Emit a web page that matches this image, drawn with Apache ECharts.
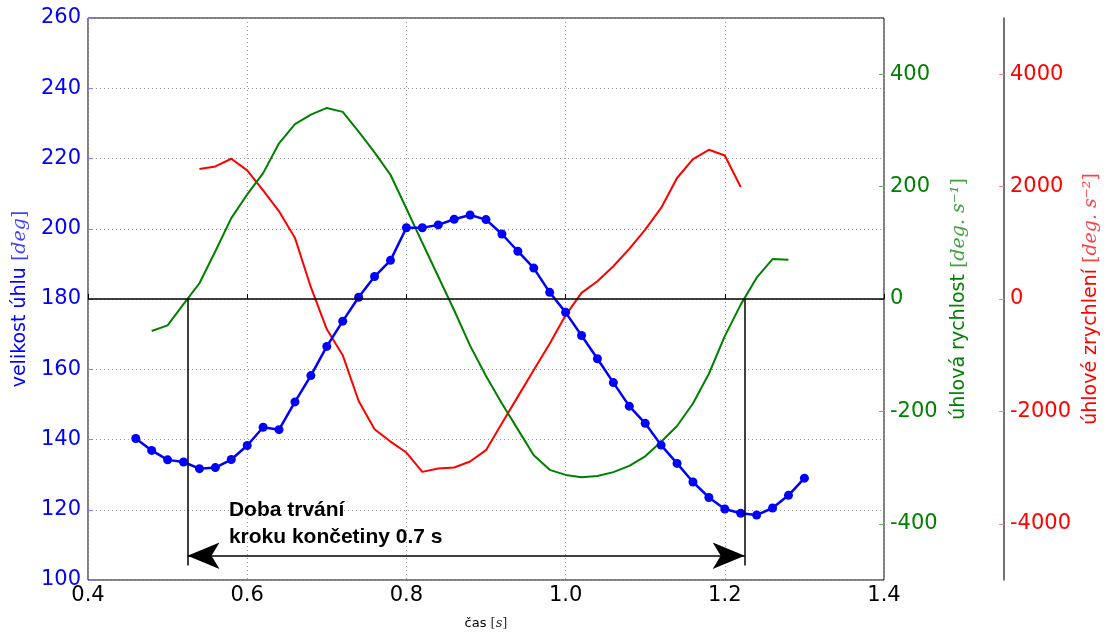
<!DOCTYPE html>
<html><head><meta charset="utf-8">
<script src="https://cdn.jsdelivr.net/npm/echarts@6/dist/echarts.min.js"></script>
<style>html,body{margin:0;padding:0;background:#fff}#c{width:1112px;height:635px}</style>
</head><body><div id="c"></div>
<script>
// ---- data ----
const angleTime = [0.46,0.48,0.50,0.52,0.54,0.56,0.58,0.60,0.62,0.64,0.66,0.68,0.70,0.72,0.74,0.76,0.78,0.80,0.82,0.84,0.86,0.88,0.90,0.92,0.94,0.96,0.98,1.00,1.02,1.04,1.06,1.08,1.10,1.12,1.14,1.16,1.18,1.20,1.22,1.24,1.26,1.28,1.30];
const angleDeg  = [140.3,136.9,134.2,133.6,131.7,132.0,134.3,138.3,143.5,142.8,150.7,158.2,166.5,173.7,180.5,186.4,191.0,200.3,200.3,201.1,202.7,203.9,202.6,198.5,193.6,188.8,181.9,176.2,169.6,163.0,156.2,149.5,144.6,138.4,133.2,127.9,123.5,120.2,119.0,118.5,120.5,124.1,129.0];

const velTime = [0.48,0.50,0.52,0.54,0.56,0.58,0.60,0.62,0.64,0.66,0.68,0.70,0.72,0.74,0.76,0.78,0.80,0.82,0.84,0.86,0.88,0.90,0.92,0.94,0.96,0.98,1.00,1.02,1.04,1.06,1.08,1.10,1.12,1.14,1.16,1.18,1.20,1.22,1.24,1.26,1.28];
const velDegS = [-57,-47,-9,28,85,144,186,224,277,311,328,340,333,298,261,221,161,100,40,-20,-83,-137,-186,-232,-278,-304,-313,-317,-315,-308,-297,-280,-254,-226,-186,-133,-66,-10,38,71,70];

const accTime = [0.54,0.56,0.58,0.60,0.62,0.64,0.66,0.68,0.70,0.72,0.74,0.76,0.78,0.80,0.82,0.84,0.86,0.88,0.90,0.92,0.94,0.96,0.98,1.00,1.02,1.04,1.06,1.08,1.10,1.12,1.14,1.16,1.18,1.20,1.22];
const accDegS2 = [2312,2359,2496,2288,1933,1560,1087,210,-540,-1000,-1815,-2318,-2537,-2732,-3076,-3016,-2998,-2892,-2690,-2211,-1737,-1264,-796,-290,110,316,583,892,1234,1620,2153,2490,2655,2554,1993];

const xTicks = [0.4,0.6,0.8,1.0,1.2,1.4];
const angleTicks = [100,120,140,160,180,200,220,240,260];
const velTicks = [-400,-200,0,200,400];
const accTicks = [-4000,-2000,0,2000,4000];

// annotation values (in data units)
const stepStart = 0.525, stepEnd = 1.225;
const zeroLevel = 180;
const markerBottom = 104.1, arrowLevel = 106.9;
const noteAt = [0.577, 123.6];
const noteText = 'Doba trvání\nkroku končetiny 0.7 s';

const BLUE = '#0000ff', GREEN = '#008000', RED = '#ff0000';
const SANS = 'DejaVu Sans', SERIF = 'DejaVu Serif';

const pairs = (xs, ys) => xs.map((x, i) => [x, ys[i]]);

const gridLine = { show: true, lineStyle: { color: '#9a9a9a', type: [1, 3], width: 1 } };

function axisName(text, math, color, size) {
  return {
    name: '{a|' + text + ' }{n|[}{m|' + math + '}{n|]}',
    nameTextStyle: {
      rich: {
        a: { fontFamily: SANS, fontSize: size, color: color },
        n: { fontFamily: SERIF, fontSize: size, color: color, opacity: 0.75 },
        m: { fontFamily: SERIF, fontStyle: 'italic', fontSize: size, color: color, opacity: 0.75 }
      }
    }
  };
}

const chart = echarts.init(document.getElementById('c'), null, { renderer: 'canvas' });
const option = {
  animation: false,
  backgroundColor: '#fff',
  grid: { left: 88, right: 228, top: 18, bottom: 54, show: true, borderColor: '#000', borderWidth: 1, backgroundColor: 'transparent' },
  xAxis: {
    type: 'value', min: 0.4, max: 1.4, interval: 0.2,
    axisLine: { show: false },
    axisTick: { show: true, inside: true, length: 5, customValues: xTicks, lineStyle: { color: '#000' } },
    axisLabel: { color: '#000', fontFamily: SANS, fontSize: 21, margin: 5, customValues: xTicks, formatter: v => v.toFixed(1) },
    splitLine: gridLine,
    name: '{a|čas }{n|[}{m|s}{n|]}',
    nameLocation: 'middle', nameGap: 37,
    nameTextStyle: { rich: {
      a: { fontFamily: SANS, fontSize: 13, color: '#000' },
      n: { fontFamily: SERIF, fontSize: 13, color: '#333' },
      m: { fontFamily: SERIF, fontStyle: 'italic', fontSize: 13, color: '#333' }
    } }
  },
  yAxis: [
    Object.assign({
      type: 'value', position: 'left', min: 100, max: 260, interval: 20,
      axisLine: { show: false },
      axisTick: { show: true, inside: true, length: 5, customValues: angleTicks, lineStyle: { color: '#8080ff' } },
      axisLabel: { color: BLUE, fontFamily: SANS, fontSize: 21, margin: 7, customValues: angleTicks },
      splitLine: gridLine,
      nameLocation: 'middle', nameGap: 54, nameRotate: 90
    }, axisName('velikost úhlu', 'deg', BLUE, 19)),
    Object.assign({
      type: 'value', position: 'right', min: -500, max: 500, interval: 100,
      axisLine: { show: false },
      axisTick: { show: true, inside: true, length: 5, customValues: velTicks, lineStyle: { color: '#66b366' } },
      axisLabel: { color: GREEN, fontFamily: SANS, fontSize: 21, margin: 6, customValues: velTicks, formatter: v => String(v) },
      splitLine: { show: false },
      nameLocation: 'middle', nameGap: 66, nameRotate: 90
    }, axisName('úhlová rychlost', 'deg. s⁻¹', GREEN, 19)),
    Object.assign({
      type: 'value', position: 'right', offset: 120, min: -5000, max: 5000, interval: 1000,
      axisLine: { show: true, lineStyle: { color: '#444', width: 1.5 } },
      axisTick: { show: true, inside: true, length: 5, customValues: accTicks, lineStyle: { color: '#ff8080' } },
      axisLabel: { color: RED, fontFamily: SANS, fontSize: 21, margin: 6, customValues: accTicks, formatter: v => String(v) },
      splitLine: { show: false },
      nameLocation: 'middle', nameGap: 70, nameRotate: 90
    }, axisName('úhlové zrychlení', 'deg. s⁻²', RED, 19))
  ],
  series: [
    {
      name: 'accel', type: 'line', yAxisIndex: 2, data: pairs(accTime, accDegS2),
      showSymbol: false, symbol: 'none', lineStyle: { color: RED, width: 2 }, itemStyle: { color: RED }, z: 2
    },
    {
      name: 'vel', type: 'line', yAxisIndex: 1, data: pairs(velTime, velDegS),
      showSymbol: false, symbol: 'none', lineStyle: { color: GREEN, width: 2 }, itemStyle: { color: GREEN }, z: 3
    },
    {
      name: 'angle', type: 'line', yAxisIndex: 0, data: pairs(angleTime, angleDeg),
      symbol: 'circle', symbolSize: 9, lineStyle: { color: BLUE, width: 2.5 }, itemStyle: { color: BLUE }, z: 4
    },
    {
      name: 'notes', type: 'line', yAxisIndex: 0, data: [], z: 5,
      markLine: {
        silent: true, animation: false,
        symbol: ['none', 'none'],
        label: { show: false },
        lineStyle: { color: '#000', width: 1.5, type: 'solid' },
        data: [
          [{ coord: [0.4, zeroLevel] }, { coord: [1.4, zeroLevel] }],
          [{ coord: [stepStart, zeroLevel] }, { coord: [stepStart, markerBottom] }],
          [{ coord: [stepEnd, zeroLevel] }, { coord: [stepEnd, markerBottom] }],
          [{ coord: [stepStart, arrowLevel], symbol: 'arrow', symbolSize: [20, 32] },
           { coord: [stepEnd, arrowLevel], symbol: 'arrow', symbolSize: [20, 32] }]
        ]
      },
      markPoint: {
        silent: true, symbol: 'circle', symbolSize: 0,
        itemStyle: { color: 'transparent' },
        label: {
          show: true, position: [0, 0], align: 'left', verticalAlign: 'top',
          formatter: noteText, color: '#000', fontFamily: 'Liberation Sans',
          fontWeight: 'bold', fontSize: 21, lineHeight: 27
        },
        data: [{ coord: noteAt }]
      }
    }
  ]
};
chart.setOption(option);
</script>
</body></html>
